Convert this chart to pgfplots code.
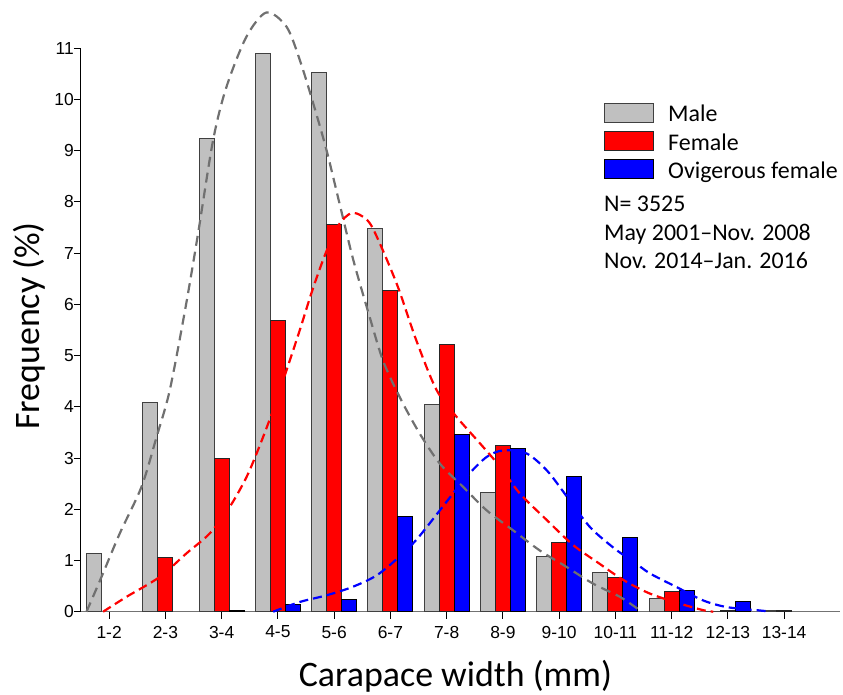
\documentclass[border=0pt]{standalone}
\usepackage{pgfplots}
\pgfplotsset{compat=1.18}
\usepackage{fontspec}
\setmainfont{Carlito}
\newfontfamily\tickfont{Liberation Sans}
\newcommand{\tkf}{\tickfont\fontsize{17.5}{19}\selectfont}
\definecolor{mgray}{HTML}{C0C0C0}
\definecolor{cgray}{HTML}{707070}
\definecolor{fred}{HTML}{FF0000}
\definecolor{fblue}{HTML}{0000FF}
\pgfplotsset{mybar/.style={ybar, bar width=15bp, line width=1bp}}
\newcommand{\legfont}{\fontsize{24}{28}\selectfont}
\begin{document}
\begin{tikzpicture}
\path[use as bounding box] (-81bp,-83.3bp) rectangle (762bp,611.7bp);
\begin{axis}[
  at={(0,0)}, anchor=south west,
  scale only axis, width=759.4bp, height=563.4bp,
  xmin=0.5, xmax=14, ymin=0, ymax=11,
  clip=false,
  axis x line=bottom, axis y line=left,
  axis line style={-, line width=1bp},
  x axis line style={black!55},
  xtick={1,...,13},
  xticklabels={{\tkf 1-2},{\tkf 2-3},{\tkf 3-4},{\tkf 4-5},{\tkf 5-6},{\tkf 6-7},{\tkf 7-8},{\tkf 8-9},{\tkf 9-10},{\tkf 10-11},{\tkf 11-12},{\tkf 12-13},{\tkf 13-14}},
  ytick={0,...,11},
  yticklabel={\tkf\pgfmathprintnumber[assume math mode=true]{\tick}},
  tick align=outside,
  major tick length=7bp,
  tick style={black, line width=1bp},
  /pgf/number format/assume math mode=true,
  tick label style={font=\tkf},
  xticklabel style={anchor=north, inner sep=0pt, yshift=-7bp},
  yticklabel style={anchor=east, inner sep=0pt},
  ylabel={Frequency (\%)},
  xlabel={Carapace width (mm)},
  label style={font=\fontsize{36}{40}\selectfont},
  ylabel style={at={(axis description cs:-0.054,0.507)}, anchor=base},
  xlabel style={at={(axis description cs:0.493,-0.1319)}, anchor=base},
]
\addplot[mybar, bar shift=-15bp, fill=mgray, draw=black!75] coordinates {
 (1,1.13) (2,4.08) (3,9.24) (4,10.89) (5,10.52) (6,7.49) (7,4.05) (8,2.32)
 (9,1.08) (10,0.76) (11,0.25) (12,0.01) (13,0.02)};
\addplot[mybar, bar shift=0bp, fill=fred, draw=black!85] coordinates {
 (2,1.06) (3,3.00) (4,5.68) (5,7.56) (6,6.27) (7,5.22) (8,3.24) (9,1.35)
 (10,0.66) (11,0.40) (12,0.03) (13,0.03)};
\addplot[mybar, bar shift=15bp, fill=fblue, draw=black] coordinates {
 (3,0.02) (4,0.15) (5,0.23) (6,1.85) (7,3.45) (8,3.18) (9,2.63) (10,1.45)
 (11,0.42) (12,0.20)};
% fitted curves
\addplot[smooth, cgray, line width=2.2bp, dash pattern=on 10bp off 6bp] coordinates {
 (0.598,0) (0.865,0.68) (1.19,1.53) (1.576,2.44) (1.843,3.41) (2.079,4.33) (2.36,5.95)
 (2.582,7.39) (2.849,9.21) (3.087,10.25) (3.443,11.23) (3.798,11.7) (4.154,11.42)
 (4.39,10.77) (4.627,9.93) (4.865,9.01) (5.10,7.95) (5.34,6.87) (5.63,5.76) (5.87,4.9)
 (6.17,4.18) (6.52,3.48) (6.88,2.89) (7.29,2.44) (7.71,1.98) (8.18,1.59) (8.65,1.20)
 (9.13,0.875) (9.60,0.55) (10.08,0.29) (10.43,0.03)};
\addplot[smooth, fred, line width=2.2bp, dash pattern=on 9bp off 5bp] coordinates {
 (0.893,0) (1.309,0.29) (1.901,0.68) (2.376,1.14) (2.79,1.53) (3.146,2.05) (3.443,2.63)
 (3.68,3.25) (3.92,3.95) (4.15,4.7) (4.39,5.5) (4.62,6.3) (4.85,7.0) (5.08,7.55) (5.30,7.78)
 (5.50,7.72) (5.69,7.48) (6.11,6.41) (6.46,5.30) (6.82,4.33) (7.18,3.80) (7.59,3.29)
 (7.95,2.83) (8.30,2.31) (8.78,1.79) (9.25,1.30) (9.70,0.95) (10.14,0.62) (10.61,0.355)
 (11.14,0.16) (11.56,0.03) (11.74,0)};
\addplot[smooth, fblue, line width=2.2bp, dash pattern=on 9bp off 5bp] coordinates {
 (3.916,0) (4.39,0.19) (4.865,0.32) (5.34,0.49) (5.81,0.75) (6.40,1.33) (6.88,1.98)
 (7.35,2.63) (7.71,3.02) (8.01,3.15) (8.42,3.09) (8.78,2.76) (9.13,2.26) (9.55,1.65)
 (10.0,1.22) (10.32,0.98) (10.61,0.75) (11.09,0.48) (11.56,0.22) (11.98,0.09) (12.51,0.03) (12.7,0.01)};
% legend
\draw[fill=mgray, draw=black!75, line width=1bp] (axis description cs:0.6900,0.9024) rectangle (axis description cs:0.7545,0.8687);
\draw[fill=fred, draw=black!85, line width=1bp] (axis description cs:0.6900,0.8520) rectangle (axis description cs:0.7545,0.8182);
\draw[fill=fblue, draw=black, line width=1bp] (axis description cs:0.6900,0.8030) rectangle (axis description cs:0.7545,0.7693);
\node[anchor=base west, inner sep=0pt, font=\legfont] at (axis description cs:0.7730,0.8697) {Male};
\node[anchor=base west, inner sep=0pt, font=\legfont] at (axis description cs:0.7730,0.8191) {Female};
\node[anchor=base west, inner sep=0pt, font=\legfont] at (axis description cs:0.7730,0.7693) {Ovigerous female};
\node[anchor=base west, inner sep=0pt, font=\legfont] at (axis description cs:0.6887,0.710) {N= 3525};
\node[anchor=base west, inner sep=0pt, font=\legfont] at (axis description cs:0.6887,0.6597) {May 2001--Nov. 2008};
\node[anchor=base west, inner sep=0pt, font=\legfont] at (axis description cs:0.6887,0.6095) {Nov. 2014--Jan. 2016};
\end{axis}
\end{tikzpicture}
\end{document}
